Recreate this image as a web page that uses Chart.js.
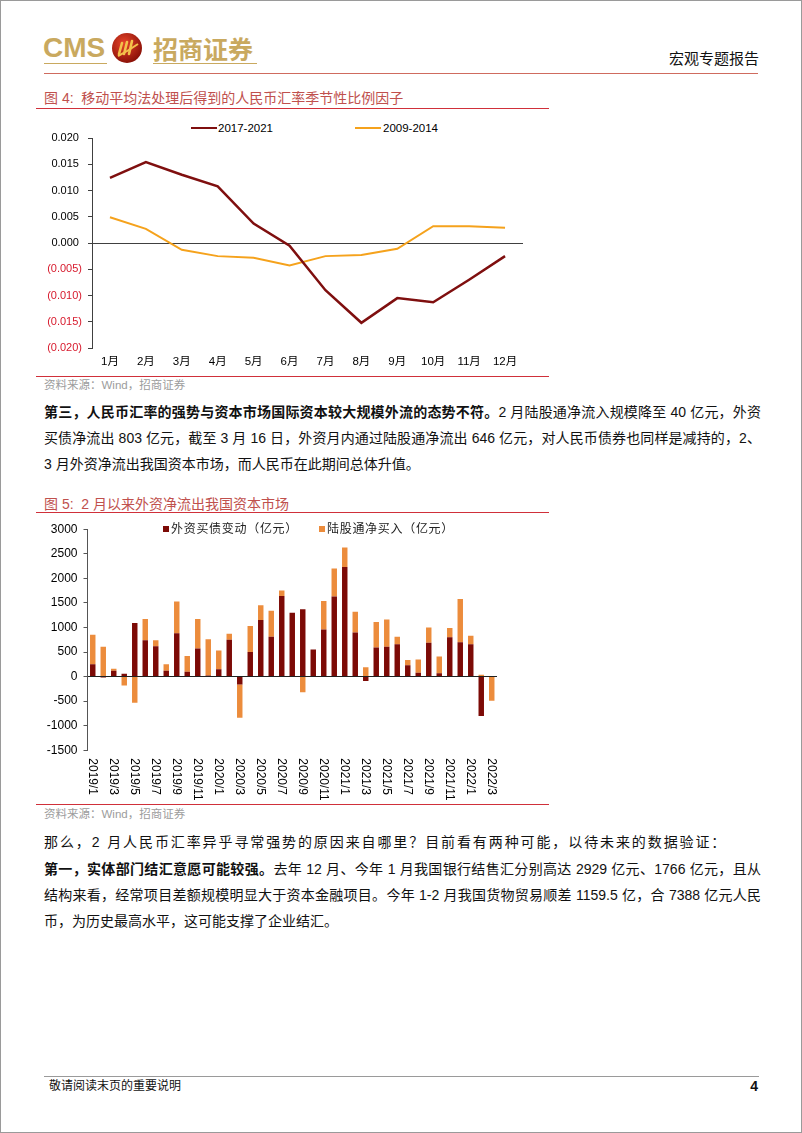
<!DOCTYPE html>
<html><head><meta charset="utf-8">
<script src="https://cdn.jsdelivr.net/npm/chart.js@4.4.1/dist/chart.umd.min.js"></script>
<style>
html,body{margin:0;padding:0;background:#fff;}
#page{position:relative;width:802px;height:1133px;box-sizing:border-box;border:1px solid #9a9a9a;overflow:hidden;font-family:"Liberation Sans","Noto Sans CJK SC",sans-serif;color:#111;}
.abs{position:absolute;white-space:nowrap;}
.hl{position:absolute;height:0;}
.jl{position:absolute;left:43px;width:717px;font-size:14px;line-height:20px;text-align:justify;text-align-last:justify;color:#111;}
.nl{position:absolute;left:43px;font-size:14px;line-height:20px;white-space:nowrap;color:#111;}
.ttl{position:absolute;left:43px;font-size:14px;line-height:20px;color:#c0504d;white-space:nowrap;}
.src{position:absolute;left:43px;font-size:11.5px;line-height:16px;color:#9c9c9c;white-space:nowrap;}
.lg{position:absolute;font-size:11.5px;line-height:14px;white-space:nowrap;color:#000;}
.lg2{position:absolute;font-size:12px;line-height:14px;white-space:nowrap;color:#222;letter-spacing:0.7px;}
.sq{position:absolute;width:6px;height:6px;}
canvas{position:absolute;}
</style>
</head><body>
<div id="page">
  <!-- header -->
  <div class="abs" style="left:42px;top:31px;font-size:28px;line-height:32px;font-weight:bold;color:#c9a95f;font-family:'Liberation Sans',sans-serif;">CMS</div>
  <svg class="abs" style="left:110px;top:31px;" width="32" height="32" viewBox="0 0 32 32">
    <defs><radialGradient id="rg" cx="40%" cy="35%" r="65%"><stop offset="0" stop-color="#e8452a"/><stop offset="1" stop-color="#8c1208"/></radialGradient></defs>
    <circle cx="16" cy="16" r="15" fill="url(#rg)"/>
    <path d="M8 22 L11 11 M13 22 L16 10 M18 22 L21 9" stroke="#f3c14b" stroke-width="2.6" fill="none" stroke-linecap="round"/>
    <path d="M7 24 Q17 19 27 12" stroke="#f3c14b" stroke-width="2" fill="none"/>
  </svg>
  <div class="abs" style="left:152px;top:32px;font-size:25px;line-height:30px;font-weight:bold;color:#c9a95f;font-family:'Noto Sans CJK SC',sans-serif;">招商证券</div>
  <div class="hl" style="left:43px;top:62px;width:63px;border-top:1.5px solid #c9a95f;"></div>
  <div class="hl" style="left:152px;top:62px;width:104px;border-top:1.5px solid #c9a95f;"></div>
  <div class="hl" style="left:43px;top:72px;width:714px;border-top:1px solid #cf6b5e;"></div>
  <div class="abs" style="right:42px;top:47px;font-size:15px;line-height:20px;color:#111;font-family:'Noto Sans CJK SC',sans-serif;">宏观专题报告</div>

  <!-- figure 4 -->
  <div class="ttl" style="top:87px;">图 4:&nbsp;&nbsp;移动平均法处理后得到的人民币汇率季节性比例因子</div>
  <div class="hl" style="left:35px;top:107px;width:513px;border-top:1.5px solid #d0303a;"></div>
  <div class="hl" style="left:190px;top:126px;width:26px;border-top:2.5px solid #7f0f0f;"></div>
  <div class="lg" style="left:217px;top:120px;">2017-2021</div>
  <div class="hl" style="left:354px;top:126px;width:26px;border-top:2px solid #f5a21c;"></div>
  <div class="lg" style="left:382px;top:120px;">2009-2014</div>
  <canvas id="c1" width="513" height="262" style="left:35px;top:112px;"></canvas>
  <div class="hl" style="left:35px;top:375px;width:513px;border-top:1.5px solid #d0303a;"></div>
  <div class="src" style="top:376px;">资料来源：Wind，招商证券</div>

  <!-- paragraph 1 -->
  <div class="jl" style="top:401px;"><b>第三，人民币汇率的强势与资本市场国际资本较大规模外流的态势不符。</b>2 月陆股通净流入规模降至 40 亿元，外资</div>
  <div class="jl" style="top:427px;">买债净流出 803 亿元，截至 3 月 16 日，外资月内通过陆股通净流出 646 亿元，对人民币债券也同样是减持的，2、</div>
  <div class="nl" style="top:453px;">3 月外资净流出我国资本市场，而人民币在此期间总体升值。</div>

  <!-- figure 5 -->
  <div class="ttl" style="top:493px;">图 5:&nbsp;&nbsp;2 月以来外资净流出我国资本市场</div>
  <div class="hl" style="left:35px;top:511px;width:513px;border-top:1.5px solid #d0303a;"></div>
  <canvas id="c2" width="513" height="287" style="left:35px;top:515px;"></canvas>
  <div class="sq" style="left:162px;top:525px;background:#7c0a06;"></div>
  <div class="lg2" style="left:170px;top:521px;">外资买债变动（亿元）</div>
  <div class="sq" style="left:318px;top:525px;background:#ec8c3c;"></div>
  <div class="lg2" style="left:326px;top:521px;">陆股通净买入（亿元）</div>
  <div class="hl" style="left:35px;top:803px;width:513px;border-top:1.5px solid #d0303a;"></div>
  <div class="src" style="top:805px;">资料来源：Wind，招商证券</div>

  <!-- paragraphs 2/3 -->
  <div class="nl" style="top:831px;letter-spacing:1.9px;">那么，2 月人民币汇率异乎寻常强势的原因来自哪里？目前看有两种可能，以待未来的数据验证：</div>
  <div class="jl" style="top:858px;"><b>第一，实体部门结汇意愿可能较强。</b>去年 12 月、今年 1 月我国银行结售汇分别高达 2929 亿元、1766 亿元，且从</div>
  <div class="jl" style="top:884px;">结构来看，经常项目差额规模明显大于资本金融项目。今年 1-2 月我国货物贸易顺差 1159.5 亿，合 7388 亿元人民</div>
  <div class="nl" style="top:910px;">币，为历史最高水平，这可能支撑了企业结汇。</div>

  <!-- footer -->
  <div class="hl" style="left:43px;top:1075px;width:715px;border-top:1px solid #9a9a9a;"></div>
  <div class="abs" style="left:48px;top:1077px;font-size:12px;line-height:16px;color:#111;">敬请阅读末页的重要说明</div>
  <div class="abs" style="right:43px;top:1076px;font-size:14px;line-height:18px;font-weight:bold;color:#111;">4</div>
</div>
<script>
// ---------- Figure 4 data ----------
const months = ['1月','2月','3月','4月','5月','6月','7月','8月','9月','10月','11月','12月'];
const series2017_2021 = [0.0124, 0.0154, 0.0130, 0.0108, 0.0037, -0.0005, -0.0090, -0.0152, -0.0105, -0.0113, -0.0070, -0.0025];
const series2009_2014 = [0.0049, 0.0027, -0.0013, -0.0025, -0.0028, -0.0043, -0.0025, -0.0023, -0.0011, 0.0032, 0.0032, 0.0029];

// ---------- Figure 5 data ----------
const periods = [
  '2019/1','2019/2','2019/3','2019/4','2019/5','2019/6','2019/7','2019/8','2019/9','2019/10','2019/11','2019/12',
  '2020/1','2020/2','2020/3','2020/4','2020/5','2020/6','2020/7','2020/8','2020/9','2020/10','2020/11','2020/12',
  '2021/1','2021/2','2021/3','2021/4','2021/5','2021/6','2021/7','2021/8','2021/9','2021/10','2021/11','2021/12',
  '2022/1','2022/2','2022/3'];
const bondFlows = [
  250, -20, 120, 60, 1090, 740, 620, 120, 880, 100, 570, 20,
  150, 750, -160, 500, 1150, 810, 1640, 1300, 1370, 550, 960, 1630,
  2230, 900, -90, 590, 610, 660, 230, 80, 690, 70, 800, 700,
  660, -800, 0];
const stockFlows = [
  600, 610, 40, -180, -530, 430, 120, 130, 650, 320, 600, 740,
  380, 120, -680, 530, 300, 530, 110, 0, -320, 0, 580, 570,
  400, 420, 190, 520, 550, 150, 110, 270, 310, 340, 190, 880,
  170, 40, -490];

Chart.defaults.font.family = '"Liberation Sans", "Noto Sans CJK SC", Arial, sans-serif';
Chart.defaults.color = '#000';

const RED = '#d7192c';

new Chart(document.getElementById('c1'), {
  type: 'line',
  data: {
    labels: months,
    datasets: [
      {label: '2017-2021', data: series2017_2021, borderColor: '#7f0f0f', borderWidth: 2.5, pointRadius: 0, tension: 0, fill: false},
      {label: '2009-2014', data: series2009_2014, borderColor: '#f5a21c', borderWidth: 2, pointRadius: 0, tension: 0, fill: false}
    ]
  },
  options: {
    responsive: false, animation: false, devicePixelRatio: 1,
    layout: {padding: {left: 0, right: 26, top: 25, bottom: 0}},
    plugins: {legend: {display: false}, tooltip: {enabled: false}},
    scales: {
      x: {
        offset: true,
        grid: {display: false, drawTicks: false, offset: true},
        border: {display: false},
        ticks: {font: {size: 11.5}, padding: 7, color: '#000', maxRotation: 0, autoSkip: false},
        afterFit: s => { s.height = 27; }
      },
      y: {
        min: -0.02, max: 0.02,
        ticks: {
          stepSize: 0.005, font: {size: 11}, padding: 6,
          color: c => (c.tick.value < -1e-9 ? RED : '#000'),
          callback: v => {
            if (Math.abs(v) < 1e-9) return '0.000 ';
            return v < 0 ? '(' + Math.abs(v).toFixed(3) + ')' : v.toFixed(3) + ' ';
          }
        },
        grid: {
          color: c => (c.tick && Math.abs(c.tick.value) < 1e-9 ? '#404040' : 'rgba(0,0,0,0)'),
          lineWidth: 1, tickLength: 4, tickColor: '#404040', drawTicks: true
        },
        border: {display: true, color: '#404040', width: 1},
        afterFit: s => { s.width = 56; }
      }
    }
  }
});

const verticalLabels = {
  id: 'verticalLabels',
  afterDraw(chart) {
    const {ctx, chartArea} = chart;
    const x = chart.scales.x;
    ctx.save();
    ctx.font = '12px "Liberation Sans", Arial, sans-serif';
    ctx.fillStyle = '#000';
    ctx.textAlign = 'left';
    ctx.textBaseline = 'middle';
    periods.forEach((lab, i) => {
      if (i % 2) return;
      const px = x.getPixelForValue(i);
      ctx.save();
      ctx.translate(px, chartArea.bottom + 8);
      ctx.rotate(Math.PI / 2);
      ctx.fillText(lab, 0, 0);
      ctx.restore();
    });
    ctx.restore();
  }
};

new Chart(document.getElementById('c2'), {
  type: 'bar',
  data: {
    labels: periods,
    datasets: [
      {label: '外资买债变动（亿元）', data: bondFlows, backgroundColor: '#7c0a06', barPercentage: 0.52, categoryPercentage: 1},
      {label: '陆股通净买入（亿元）', data: stockFlows, backgroundColor: '#ec8c3c', barPercentage: 0.52, categoryPercentage: 1}
    ]
  },
  options: {
    responsive: false, animation: false, devicePixelRatio: 1,
    layout: {padding: {left: 0, right: 52, top: 12, bottom: 0}},
    plugins: {legend: {display: false}, tooltip: {enabled: false}},
    scales: {
      x: {
        stacked: true,
        grid: {display: false, drawTicks: false},
        border: {display: false},
        ticks: {display: false},
        afterFit: s => { s.height = 52.7; }
      },
      y: {
        stacked: true,
        min: -1500, max: 3000,
        ticks: {stepSize: 500, font: {size: 12}, padding: 6, color: '#000', callback: v => String(v)},
        grid: {
          color: c => (c.tick && c.tick.value === 0 ? '#202020' : 'rgba(0,0,0,0)'),
          lineWidth: 1, tickLength: 4, tickColor: '#555', drawTicks: true
        },
        border: {display: true, color: '#555', width: 1},
        afterFit: s => { s.width = 51.5; }
      }
    }
  },
  plugins: [verticalLabels]
});
</script>
</body></html>
